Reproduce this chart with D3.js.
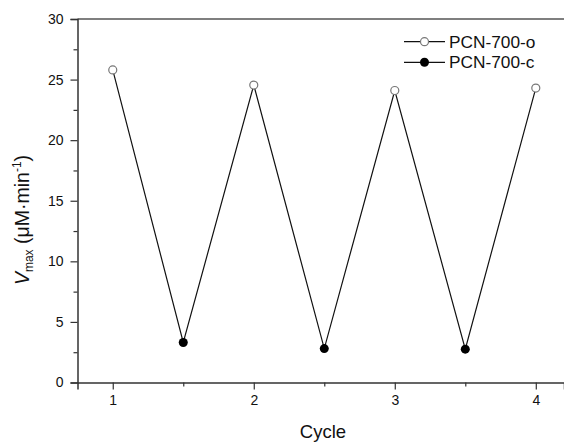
<!DOCTYPE html>
<html>
<head>
<meta charset="utf-8">
<script src="https://cdn.jsdelivr.net/npm/d3@7"></script>
<style>
  body { margin: 0; background: #fff; }
  svg { display: block; font-family: Arial, "Liberation Sans", sans-serif; }
</style>
</head>
<body>
<svg id="chart" width="564" height="443"></svg>
<script>
// Data
const openCycles = [1, 2, 3, 4];
const openValues = [25.8, 24.55, 24.1, 24.3];
const closedCycles = [1.5, 2.5, 3.5];
const closedValues = [3.3, 2.8, 2.75];
const xTicks = [1, 2, 3, 4];
const xMinorTicks = [1.5, 2.5, 3.5];
const yTicks = [0, 5, 10, 15, 20, 25, 30];
const yMinorTicks = [2.5, 7.5, 12.5, 17.5, 22.5, 27.5];
const seriesNames = ["PCN-700-o", "PCN-700-c"];

(function () {
const svg = d3.select("#chart");
const mLeft = 77.5, mRight = 564, mTop = 19, mBottom = 382.5;

const x = d3.scaleLinear().domain([0.75, 4.2]).range([mLeft, mRight]);
const y = d3.scaleLinear().domain([0, 30]).range([mBottom, mTop]);

const axisColor = "#333";

const openPts = openCycles.map((c, i) => ({c, v: openValues[i]}));
const closedPts = closedCycles.map((c, i) => ({c, v: closedValues[i]}));
const allPts = openPts.concat(closedPts).sort((a, b) => a.c - b.c);

// top frame line
svg.append("line").attr("x1", mLeft).attr("x2", mRight).attr("y1", mTop).attr("y2", mTop)
  .attr("stroke", "#555").attr("stroke-width", 1.5);

// X axis
const gx = svg.append("g").attr("transform", `translate(0,${mBottom})`)
  .call(d3.axisBottom(x).tickValues(xTicks).tickSize(7).tickPadding(6).tickFormat(d3.format("d")));
gx.select(".domain").attr("stroke", axisColor).attr("stroke-width", 1.5);
gx.selectAll(".tick line").attr("stroke", axisColor).attr("stroke-width", 1.2);
gx.selectAll(".tick text").attr("font-size", 14).attr("fill", "#111").attr("font-family", "Arial, 'Liberation Sans', sans-serif");
const gxm = svg.append("g").attr("transform", `translate(0,${mBottom})`)
  .call(d3.axisBottom(x).tickValues(xMinorTicks).tickSize(4).tickFormat(""));
gxm.select(".domain").remove();
gxm.selectAll(".tick line").attr("stroke", axisColor).attr("stroke-width", 1.2);

// Y axis
const gy = svg.append("g").attr("transform", `translate(${mLeft},0)`)
  .call(d3.axisLeft(y).tickValues(yTicks).tickSize(7).tickPadding(7));
gy.select(".domain").attr("stroke", axisColor).attr("stroke-width", 1.5);
gy.selectAll(".tick line").attr("stroke", axisColor).attr("stroke-width", 1.2);
gy.selectAll(".tick text").attr("font-size", 14).attr("fill", "#111").attr("font-family", "Arial, 'Liberation Sans', sans-serif");
const gym = svg.append("g").attr("transform", `translate(${mLeft},0)`)
  .call(d3.axisLeft(y).tickValues(yMinorTicks).tickSize(4).tickFormat(""));
gym.select(".domain").remove();
gym.selectAll(".tick line").attr("stroke", axisColor).attr("stroke-width", 1.2);

// Line
svg.append("path").datum(allPts)
  .attr("fill", "none").attr("stroke", "#111").attr("stroke-width", 1.2)
  .attr("d", d3.line().x(d => x(d.c)).y(d => y(d.v)));

// Markers
svg.selectAll("circle.open").data(openPts).enter().append("circle").attr("class", "open")
  .attr("cx", d => x(d.c)).attr("cy", d => y(d.v)).attr("r", 4)
  .attr("fill", "#fff").attr("stroke", "#777").attr("stroke-width", 1.2);
svg.selectAll("circle.closed").data(closedPts).enter().append("circle").attr("class", "closed")
  .attr("cx", d => x(d.c)).attr("cy", d => y(d.v)).attr("r", 4.5)
  .attr("fill", "#000");

// Legend
const legendRows = [
  {name: seriesNames[0], fill: "#fff", stroke: "#777", r: 4, yc: 41.7},
  {name: seriesNames[1], fill: "#000", stroke: "none", r: 4.5, yc: 62.3}
];
legendRows.forEach(r => {
  svg.append("line").attr("x1", 404).attr("x2", 445).attr("y1", r.yc).attr("y2", r.yc)
    .attr("stroke", "#111").attr("stroke-width", 1.2);
  svg.append("circle").attr("cx", 424.5).attr("cy", r.yc).attr("r", r.r)
    .attr("fill", r.fill).attr("stroke", r.stroke).attr("stroke-width", 1.2);
  svg.append("text").attr("x", 449).attr("y", r.yc + 6).attr("font-size", 17.3).attr("fill", "#111")
    .text(r.name);
});

// X title
svg.append("text").attr("x", 323).attr("y", 438).attr("text-anchor", "middle")
  .attr("font-size", 18.5).attr("fill", "#111").text("Cycle");

// Y title
const yt = svg.append("text").attr("transform", "translate(29,220) rotate(-90)")
  .attr("text-anchor", "middle").attr("font-size", 19.5).attr("fill", "#111");
yt.append("tspan").attr("font-style", "italic").text("V");
yt.append("tspan").attr("font-size", 12).attr("dy", 4).text("max");
yt.append("tspan").attr("dy", -4).text(" (μM·min");
yt.append("tspan").attr("font-size", 12).attr("dy", -8).text("-1");
yt.append("tspan").attr("dy", 8).text(")");
})();
</script>
</body>
</html>
